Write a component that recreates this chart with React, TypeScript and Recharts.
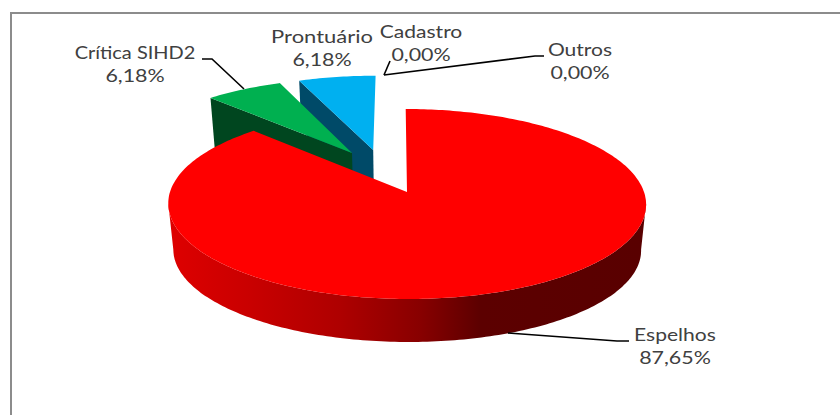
import React from 'react';
import { PieChart, Pie } from 'recharts';

// drawn back to front, so the big slice goes last
const categories = ['Outros', 'Cadastro', 'Prontuário', 'Crítica SIHD2', 'Espelhos'];
const shares = [0, 0, 6.18, 6.18, 87.65];
const topColors = ['#7f7f7f', '#7030a0', '#00b0f0', '#00b050', '#ff0000'];
const wallColors = ['#444444', '#3a1a55', '#004a68', '#00461f', 'url(#redWall)'];

const data = categories.map((name, i) => ({ name, value: shares[i], fill: topColors[i], wall: wallColors[i] }));

// how far each slice is pulled out, in pie radii (side, back)
const pulled: Record<string, [number, number]> = {
  'Prontuário': [-0.148, 0.476],
  'Crítica SIHD2': [-0.242, 0.44],
};

// label layout: text centre, baseline, sideways stretch and leader line
const labelLayout: Record<string, { x: number; y: number; stretch: number; line: [number, number][] }> = {
  Outros: { x: 580, y: 56, stretch: 1.17, line: [[544, 56], [535, 56], [384, 75]] },
  Cadastro: { x: 421, y: 38, stretch: 1.17, line: [[390, 61], [384, 75]] },
  'Prontuário': { x: 322, y: 43, stretch: 1.22, line: [] },
  'Crítica SIHD2': { x: 135, y: 59, stretch: 1.11, line: [[202, 59], [212, 59], [244, 89]] },
  Espelhos: { x: 675, y: 341, stretch: 1.17, line: [[508, 333], [617, 341], [629, 341]] },
};

// perspective of the tilted disc
const P = 0.1263;
const SKEW = -1.5;
const project = (u: number, v: number, base: boolean): [number, number] => {
  const w = 1 + P * v;
  return base
    ? [407 + (232 * u + SKEW * v) / w, 238.4 - (90.5 * v) / w]
    : [407 + (237 * u + SKEW * v) / w, 192 - (93.5 * v) / w];
};

const rim = (t: number, off: [number, number], base: boolean) => {
  const a = (t * Math.PI) / 180;
  return project(Math.sin(a) + off[0], Math.cos(a) + off[1], base);
};

const range = (from: number, to: number) => {
  const out: number[] = [];
  for (let t = from; t < to; t += 1) out.push(t);
  out.push(to);
  return out;
};

const toPath = (pts: [number, number][]) =>
  pts.map((p, i) => `${i ? 'L' : 'M'}${p[0].toFixed(1)},${p[1].toFixed(1)}`).join(' ') + ' Z';

const Slice3D = (props: any) => {
  const { startAngle, endAngle, name, fill, wall, payload } = props;
  const label = name ?? payload?.name;
  // recharts angles to clockwise degrees from 12 o'clock
  const from = 90 - endAngle + 360;
  const to = 90 - startAngle + 360;
  if (to - from <= 0) return null;
  const off = pulled[label] ?? [0, 0];
  const color = fill ?? payload?.fill;
  const wallColor = wall ?? payload?.wall;

  const apexTop = project(off[0], off[1], false);
  const apexBase = project(off[0], off[1], true);
  const topFace = [apexTop, ...range(from, to).map((t) => rim(t, off, false))];

  const frontFrom = Math.max(from, 97);
  const frontTo = Math.min(to, 263);
  const hasFront = frontTo > frontFrom;
  return (
    <g>
      {label === 'Espelhos' && (
        <defs>
          <linearGradient id="redWall" gradientUnits="userSpaceOnUse" x1="173" x2="642" y1="0" y2="0">
            <stop offset="0" stopColor="#dd0000" />
            <stop offset="0.165" stopColor="#c90000" />
            <stop offset="0.357" stopColor="#ae0000" />
            <stop offset="0.527" stopColor="#880000" />
            <stop offset="0.655" stopColor="#5c0000" />
            <stop offset="1" stopColor="#590000" />
          </linearGradient>
        </defs>
      )}
      {off[0] !== 0 && (
        <path
          d={toPath([rim(from, off, false), apexTop, apexBase, rim(from, off, true)])}
          fill={wallColor}
        />
      )}
      {hasFront && (
        <path
          d={toPath([
            ...range(frontFrom, frontTo).map((t) => rim(t, off, false)),
            ...range(frontFrom, frontTo).reverse().map((t) => rim(t, off, true)),
          ])}
          fill={wallColor}
        />
      )}
      <path d={toPath(topFace)} fill={color} />
    </g>
  );
};

const SliceLabel = (props: any) => {
  const { name, value } = props;
  const spot = labelLayout[name];
  if (!spot) return null;
  const pct = Number(value).toFixed(2).replace('.', ',') + '%';
  return (
    <g>
      {spot.line.length > 0 && (
        <polyline
          points={spot.line.map((p) => p.join(',')).join(' ')}
          fill="none"
          stroke="#000000"
          strokeWidth={1.6}
        />
      )}
      <text
        x={0}
        y={spot.y}
        transform={`translate(${spot.x} 0) scale(${spot.stretch} 1)`}
        textAnchor="middle"
        fill="#404040"
        fontFamily="Lato"
        fontSize={18}
      >
        {name}
      </text>
      <text
        x={0}
        y={spot.y + 23}
        transform={`translate(${spot.x} 0) scale(1.19 1)`}
        textAnchor="middle"
        fill="#404040"
        fontFamily="Lato"
        fontSize={18}
      >
        {pct}
      </text>
    </g>
  );
};

export default function App() {
  return (
    <div style={{ position: 'absolute', left: 0, top: 0, width: 840, height: 415, overflow: 'hidden', background: '#fff' }}>
      <div
        style={{
          position: 'absolute',
          left: 10,
          top: 12,
          width: 840,
          height: 415,
          borderTop: '2px solid #8c8c8c',
          borderLeft: '2px solid #8c8c8c',
        }}
      />
      <div style={{ position: 'absolute', left: 0, top: 0 }}>
        <PieChart width={840} height={415} margin={{ top: 0, right: 0, bottom: 0, left: 0 }}>
          <Pie
            data={data}
            dataKey="value"
            nameKey="name"
            cx={407}
            cy={204}
            outerRadius={95}
            startAngle={90}
            endAngle={450}
            stroke="none"
            shape={Slice3D}
            label={SliceLabel}
            labelLine={false}
            isAnimationActive={false}
          />
        </PieChart>
      </div>
    </div>
  );
}
